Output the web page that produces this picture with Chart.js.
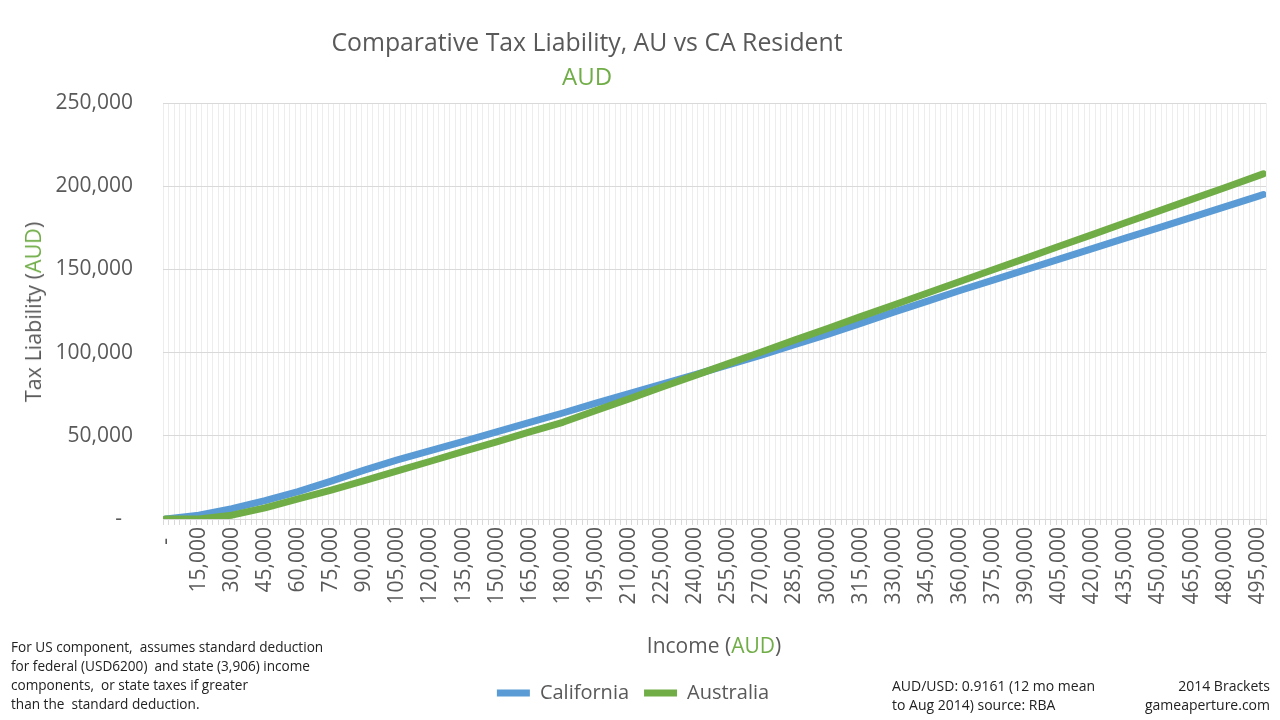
<!DOCTYPE html>
<html>
<head>
<meta charset="utf-8">
<script src="https://cdn.jsdelivr.net/npm/chart.js@4.4.1/dist/chart.umd.min.js"></script>
<style>
  body { margin: 0; background: #fff; }
  #wrap { position: relative; width: 1280px; height: 720px; font-family: 'Open Sans', sans-serif; color: #595959; }
  #wrap canvas { position: absolute; left: 0; top: 0; }
  .txt { position: absolute; white-space: nowrap; }
  .aud { color: #70AD47; }
</style>
</head>
<body>
<div id="wrap">
  <canvas id="taxChart" width="1280" height="720"></canvas>
  <div class="txt" style="left:0;width:1174px;top:25px;text-align:center;font-size:24.8px;line-height:32px;">Comparative Tax Liability, AU vs CA Resident</div>
  <div class="txt aud" style="left:0;width:1174px;top:60px;text-align:center;font-size:24px;line-height:32px;">AUD</div>
  <div class="txt" style="left:33px;top:312px;font-size:21.5px;line-height:28px;transform:translate(-50%,-50%) rotate(-90deg);">Tax Liability (<span class="aud">AUD</span>)</div>
  <div class="txt" style="left:714px;top:645px;font-size:21px;line-height:28px;transform:translate(-50%,-50%);">Income (<span class="aud">AUD</span>)</div>
  <div class="txt" style="left:11px;top:637px;font-size:13.6px;line-height:19px;color:#222;">For US component,&nbsp; assumes standard deduction<br>for federal (USD6200)&nbsp; and state (3,906) income<br>components,&nbsp; or state taxes if greater<br>than the&nbsp; standard deduction.</div>
  <div class="txt" style="left:892px;top:676px;font-size:14px;line-height:19px;color:#222;">AUD/USD: 0.9161 (12 mo mean<br>to Aug 2014) source: RBA</div>
  <div class="txt" style="right:10px;top:676px;font-size:14px;line-height:19px;color:#222;text-align:right;">2014 Brackets<br>gameaperture.com</div>
</div>
<script>
const incomeAUD = [0, 15000, 30000, 45000, 60000, 75000, 90000, 105000, 120000, 135000,
  150000, 165000, 180000, 195000, 210000, 225000, 240000, 255000, 270000, 285000,
  300000, 315000, 330000, 345000, 360000, 375000, 390000, 405000, 420000, 435000,
  450000, 465000, 480000, 495000, 497500];

const californiaTax = [0, 2300, 6200, 11000, 16500, 22800, 29400, 35500, 41100, 46600,
  52300, 58000, 63700, 69600, 75400, 81100, 86700, 92600, 98500, 104700,
  111000, 117600, 124300, 130800, 137300, 143600, 149900, 156200, 162500, 168800,
  175000, 181300, 187600, 193900, 195000];

const australiaTax = [0, 0, 2300, 6700, 12100, 17400, 23000, 28900, 34700, 40600,
  46400, 52300, 58100, 65200, 72200, 79300, 86300, 93400, 100400, 107500,
  114500, 121600, 128600, 135700, 142700, 149800, 156800, 163900, 170900, 178000,
  185000, 192100, 199100, 206200, 207400];

// category axis: one slot every 2,500, a label every 15,000
const categoryStep = 2500;
const lastCategory = 497500;
const labelStep = 15000;
const yMax = 250000;
const yStep = 50000;

const grey = '#595959';
const blue = '#5B9BD5';
const green = '#70AD47';

function fmt(v) {
    if (v === 0) return '-  ';
    return v.toLocaleString('en-US');
}

const toPoints = (ys) => incomeAUD.map((x, i) => ({x: x, y: ys[i]}));

new Chart(document.getElementById('taxChart'), {
    type: 'line',
    data: {
        datasets: [
            {
                label: 'California',
                data: toPoints(californiaTax),
                borderColor: blue,
                backgroundColor: blue,
                borderWidth: 7,
                borderCapStyle: 'round',
                borderJoinStyle: 'round',
                pointRadius: 0,
                order: 2
            },
            {
                label: 'Australia',
                data: toPoints(australiaTax),
                borderColor: green,
                backgroundColor: green,
                borderWidth: 7,
                borderCapStyle: 'round',
                borderJoinStyle: 'round',
                pointRadius: 0,
                order: 1
            }
        ]
    },
    options: {
        responsive: false,
        devicePixelRatio: 1,
        animation: false,
        events: [],
        layout: {
            padding: {top: 103, right: 14, bottom: 7, left: 0}
        },
        scales: {
            x: {
                type: 'linear',
                min: -categoryStep / 2,
                max: lastCategory + categoryStep / 2,
                afterBuildTicks: (scale) => {
                    const ticks = [];
                    for (let v = 0; v <= lastCategory; v += categoryStep) ticks.push({value: v});
                    scale.ticks = ticks;
                },
                afterFit: (scale) => {
                    scale.height = 149;
                    scale.paddingLeft = 0;
                    scale.paddingRight = 0;
                },
                ticks: {
                    autoSkip: false,
                    minRotation: 90,
                    maxRotation: 90,
                    padding: 2,
                    color: grey,
                    font: {family: 'Open Sans', size: 21},
                    callback: (value) => (value % labelStep === 0 ? fmt(value) : '')
                },
                grid: {
                    offset: true,
                    color: '#EDEDED',
                    tickColor: '#D9D9D9',
                    tickLength: 6
                },
                border: {color: '#D9D9D9'}
            },
            y: {
                min: 0,
                max: yMax,
                afterFit: (scale) => { scale.width = 163; },
                ticks: {
                    stepSize: yStep,
                    padding: 30,
                    color: grey,
                    font: {family: 'Open Sans', size: 21},
                    callback: (value) => fmt(value)
                },
                grid: {
                    color: '#D9D9D9',
                    drawTicks: false
                },
                border: {display: false}
            }
        },
        plugins: {
            tooltip: {enabled: false},
            legend: {
                position: 'bottom',
                labels: {
                    usePointStyle: true,
                    pointStyle: 'line',
                    pointStyleWidth: 33,
                    padding: 15,
                    color: grey,
                    font: {family: 'Open Sans', size: 20},
                    sort: (a, b) => a.datasetIndex - b.datasetIndex
                }
            }
        }
    }
});
</script>
</body>
</html>
